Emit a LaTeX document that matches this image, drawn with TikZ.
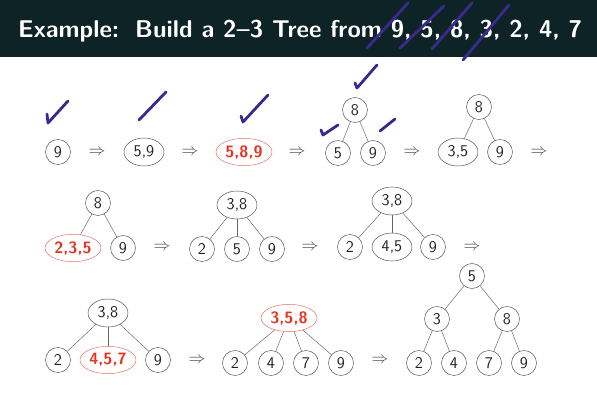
\documentclass[tikz,border=0pt]{standalone}
\usepackage{xcolor}
\usepackage{tikz}
\definecolor{headbg}{HTML}{0E2326}
\definecolor{keyline}{HTML}{4A4A4A}
\definecolor{keytext}{HTML}{222222}
\definecolor{splitred}{HTML}{E53523}
\definecolor{pen}{HTML}{3B2A8E}
\tikzstyle{every node}=[font=\sffamily\fontsize{14}{16}\selectfont,text=keytext]
\tikzstyle{key}=[draw=keyline,circle,minimum size=0.75cm,inner sep=0pt]
\tikzstyle{pair}=[draw=keyline,ellipse,minimum width=1.2cm,minimum height=0.84cm,inner sep=0pt]
\tikzstyle{triple}=[draw=splitred!75,ellipse,minimum width=1.68cm,minimum height=0.82cm,inner sep=0pt,text=splitred,font=\sffamily\bfseries\fontsize{14}{16}\selectfont]
\tikzstyle{link}=[draw=keyline!85]
\tikzstyle{goes}=[text=keyline,font=\fontsize{15}{17}\selectfont]
\tikzstyle{tick}=[draw=pen,line width=2.4pt,line cap=round,line join=round]
\usetikzlibrary{shapes.geometric}

\begin{document}
\begin{tikzpicture}[x=0.03cm,y=-0.03cm]
		\useasboundingbox (0,0) rectangle (597,401);
		% slide title
		\fill[headbg] (0,0) rectangle (597,57);
		\node[anchor=base west,text=white,font=\sffamily\bfseries\fontsize{20.7}{24}\selectfont,inner sep=0pt] (title) at (18,38) {Example:\, Build a 2--3 Tree from 9, 5, 8, 3, 2, 4, 7};
		% row one
		\node[key] (a9) at (58,152) {9};
		\node[goes] (ar1) at (97,152) {$\Rightarrow$};
		\node[pair] (b59) at (144,152) {5,9};
		\node[goes] (ar2) at (190,152) {$\Rightarrow$};
		\node[triple] (c589) at (244,152) {5,8,9};
		\node[goes] (ar3) at (297,152) {$\Rightarrow$};
		\node[key] (d8) at (355,110) {8};
		\node[key] (d5) at (338,153) {5};
		\node[key] (d9) at (373,153) {9};
		\draw[link] (d8) -- (d5);
		\draw[link] (d8) -- (d9);
		\node[goes] (ar4) at (412,152) {$\Rightarrow$};
		\node[key] (e8) at (479,107) {8};
		\node[pair] (e35) at (458,152) {3,5};
		\node[key] (e9) at (500,152) {9};
		\draw[link] (e8) -- (e35);
		\draw[link] (e8) -- (e9);
		\node[goes] (ar5) at (539,152) {$\Rightarrow$};
		% row two
		\node[key] (f8) at (98,203) {8};
		\node[triple] (f235) at (73,248) {2,3,5};
		\node[key] (f9) at (123,248) {9};
		\draw[link] (f8) -- (f235);
		\draw[link] (f8) -- (f9);
		\node[goes] (ar6) at (162,247) {$\Rightarrow$};
		\node[pair] (g38) at (237,205) {3,8};
		\node[key] (g2) at (202,249) {2};
		\node[key] (g5) at (237,249) {5};
		\node[key] (g9) at (272,249) {9};
		\draw[link] (g38) -- (g2);
		\draw[link] (g38) -- (g5);
		\draw[link] (g38) -- (g9);
		\node[goes] (ar7) at (310,247) {$\Rightarrow$};
		\node[pair] (h38) at (392,201) {3,8};
		\node[key] (h2) at (350,247) {2};
		\node[pair] (h45) at (392,247) {4,5};
		\node[key] (h9) at (433,247) {9};
		\draw[link] (h38) -- (h2);
		\draw[link] (h38) -- (h45);
		\draw[link] (h38) -- (h9);
		\node[goes] (ar8) at (472,247) {$\Rightarrow$};
		% row three
		\node[pair] (i38) at (108,313) {3,8};
		\node[key] (i2) at (58,360) {2};
		\node[triple] (i457) at (108,360) {4,5,7};
		\node[key] (i9) at (158,360) {9};
		\draw[link] (i38) -- (i2);
		\draw[link] (i38) -- (i457);
		\draw[link] (i38) -- (i9);
		\node[goes] (ar9) at (197,360) {$\Rightarrow$};
		\node[triple] (j358) at (289,318) {3,5,8};
		\node[key] (j2) at (235,363) {2};
		\node[key] (j4) at (271,363) {4};
		\node[key] (j7) at (306,363) {7};
		\node[key] (j9) at (341,363) {9};
		\draw[link] (j358) -- (j2);
		\draw[link] (j358) -- (j4);
		\draw[link] (j358) -- (j7);
		\draw[link] (j358) -- (j9);
		\node[goes] (ar10) at (380,360) {$\Rightarrow$};
		\node[key] (k5) at (472,276) {5};
		\node[key] (k3) at (437,319) {3};
		\node[key] (k8) at (507,319) {8};
		\node[key] (k2) at (419,363) {2};
		\node[key] (k4) at (454,363) {4};
		\node[key] (k7) at (489,363) {7};
		\node[key] (k9) at (524,363) {9};
		\draw[link] (k5) -- (k3);
		\draw[link] (k5) -- (k8);
		\draw[link] (k3) -- (k2);
		\draw[link] (k3) -- (k4);
		\draw[link] (k8) -- (k7);
		\draw[link] (k8) -- (k9);
		% pen marks
		\draw[tick] (367,48) -- (408,3);
		\draw[tick] (400,48) -- (444,6);
		\draw[tick] (432,49) -- (472,3);
		\draw[tick] (463,60) -- (509,5);
		\draw[tick] (47,114) -- (48,123) -- (68,101);
		\draw[tick] (139,120) -- (166,92);
		\draw[tick] (241,116) -- (243,122) -- (268,95);
		\draw[tick] (355,83) -- (357,88) -- (377,65);
		\draw[tick] (321,130) -- (323,135) -- (338,125);
		\draw[tick] (380,131) -- (395,119);
\end{tikzpicture}
\end{document}
